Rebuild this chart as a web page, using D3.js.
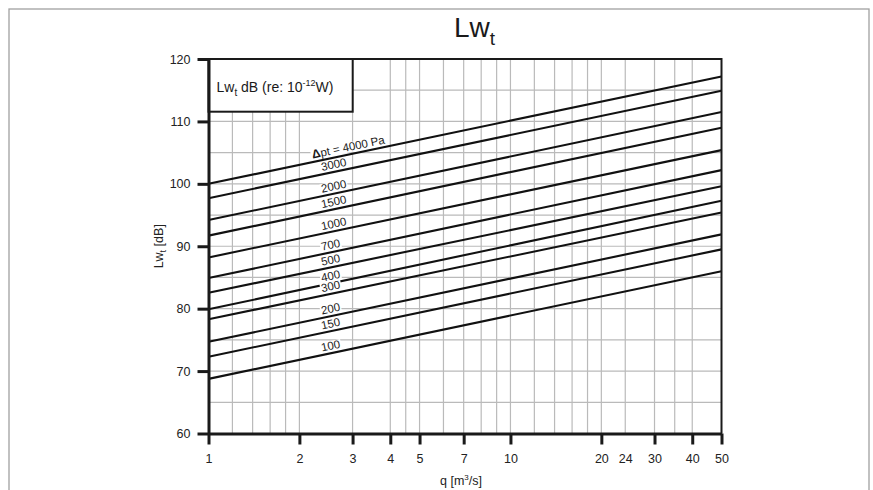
<!DOCTYPE html>
<html>
<head>
<meta charset="utf-8">
<script src="https://cdn.jsdelivr.net/npm/d3@7"></script>
<style>
  html, body { margin: 0; padding: 0; background: #fff; }
  svg { display: block; font-family: "Liberation Sans", Arial, sans-serif; }
</style>
</head>
<body>
<svg id="chart" width="873" height="490"></svg>
<script>
// ---- data ----
const pressures = [4000, 3000, 2000, 1500, 1000, 700, 500, 400, 300, 200, 150, 100];
const lwAtQ1  = [100.0, 97.7, 94.2, 91.7, 88.2, 84.9, 82.55, 79.9, 78.3, 74.7, 72.3, 68.75];
const lwAtQ50 = [117.2, 114.9, 111.5, 109.0, 105.4, 102.2, 99.6, 97.3, 95.4, 91.9, 89.5, 86.0];
const curveLabels = ["pt = 4000 Pa", "3000", "2000", "1500", "1000", "700", "500", "400", "300", "200", "150", "100"];
const qEnds = [1, 50];
const qTickValues = [1, 2, 3, 4, 5, 7, 10, 20, 24, 30, 40, 50];
const qTickNoMark = [24];
const qGrid = [1.2, 1.4, 1.6, 1.8, 2, 3, 4, 4.5, 5, 6, 7, 8, 9, 10, 12, 14, 16, 18, 20, 24, 30, 35, 40];
const lwTickValues = [60, 70, 80, 90, 100, 110, 120];
const lwGrid = [65, 70, 75, 80, 85, 90, 95, 100, 105, 110, 115];

// ---- layout ----
const svg = d3.select("#chart");
const L = 208.5, R = 721.5, T = 59, B = 433.5;
const x = d3.scaleLog().domain([1, 50]).range([L, R]);
const y = d3.scaleLinear().domain([60, 120]).range([B, T]);

// outer frame
svg.append("rect").attr("x", 9).attr("y", 9).attr("width", 860).attr("height", 500)
  .attr("fill", "none").attr("stroke", "#a0a0a0").attr("stroke-width", 1.3);

// title
const title = svg.append("text").attr("x", 454).attr("y", 37)
  .attr("font-size", 28).attr("fill", "#1a1a1a");
title.append("tspan").text("Lw");
title.append("tspan").attr("font-size", 19).attr("dy", 8).text("t");

// grid
const grid = svg.append("g");
grid.selectAll("line.v").data(qGrid).join("line")
  .attr("x1", d => x(d)).attr("x2", d => x(d)).attr("y1", T).attr("y2", B)
  .attr("stroke", "#bababa").attr("stroke-width", 1.2);
grid.selectAll("line.h").data(lwGrid).join("line")
  .attr("y1", d => y(d)).attr("y2", d => y(d)).attr("x1", L).attr("x2", R)
  .attr("stroke", "#bababa").attr("stroke-width", 1.2);

// curves
const lineGen = d3.line().x(d => x(d[0])).y(d => y(d[1]));
const curves = pressures.map((p, i) => [[qEnds[0], lwAtQ1[i]], [qEnds[1], lwAtQ50[i]]]);
svg.append("g").selectAll("path").data(curves).join("path")
  .attr("d", lineGen).attr("fill", "none").attr("stroke", "#111").attr("stroke-width", 2.1);

// curve labels
const labelQ = 2.377, labelQFirst = 2.215;
const labG = svg.append("g");
curves.forEach((c, i) => {
  const q0 = i === 0 ? labelQFirst : labelQ;
  const t = Math.log10(q0) / Math.log10(50);
  const v = c[0][1] + (c[1][1] - c[0][1]) * t;
  const px = x(q0), py = y(v) - 3.5;
  const slope = (y(c[1][1]) - y(c[0][1])) / (x(c[1][0]) - x(c[0][0]));
  const ang = Math.atan(slope) * 180 / Math.PI;
  const g = labG.append("g").attr("transform", `translate(${px},${py}) rotate(${ang})`);
  const rect = g.append("rect").attr("fill", "#fff");
  const txt = g.append("text").attr("font-size", 11.5).attr("fill", "#1a1a1a");
  if (i === 0) {
    txt.append("tspan").attr("font-weight", "bold").attr("font-size", 12).text("Δ");
  }
  txt.append("tspan").text(curveLabels[i]);
  const bb = txt.node().getBBox();
  rect.attr("x", bb.x - 1).attr("y", -8.5).attr("width", bb.width + 2).attr("height", 10);
});

// legend box
const lg = svg.append("g");
lg.append("rect").attr("x", L).attr("y", T).attr("width", 352.7 - L).attr("height", 111.7 - T)
  .attr("fill", "#fff").attr("stroke", "#1a1a1a").attr("stroke-width", 2);
const lt = lg.append("text").attr("x", 216.5).attr("y", 92).attr("font-size", 14).attr("fill", "#1a1a1a");
lt.append("tspan").text("Lw");
lt.append("tspan").attr("font-size", 10).attr("dy", 4).text("t");
lt.append("tspan").attr("dy", -4).text(" dB (re: 10");
lt.append("tspan").attr("font-size", 9).attr("dy", -6).text("-12");
lt.append("tspan").attr("dy", 6).text("W)");

// plot border top/right
svg.append("path").attr("d", `M${L},${T}H${R}V${B}`).attr("fill", "none")
  .attr("stroke", "#1a1a1a").attr("stroke-width", 2);

// axes
const xAxis = d3.axisBottom(x).tickValues(qTickValues).tickFormat(d3.format("d"))
  .tickSize(11).tickSizeOuter(0).tickPadding(10);
const gx = svg.append("g").attr("transform", `translate(0,${B})`).call(xAxis);
gx.select(".domain").attr("stroke", "#1a1a1a").attr("stroke-width", 3);
gx.selectAll(".tick line").attr("stroke", "#1a1a1a").attr("stroke-width", 3)
  .filter(d => qTickNoMark.includes(d)).remove();
gx.selectAll(".tick text").attr("font-size", 12.5).attr("fill", "#222")
  .attr("font-family", "Liberation Sans, Arial, sans-serif");

const yAxis = d3.axisLeft(y).tickValues(lwTickValues).tickFormat(d3.format("d"))
  .tickSize(11).tickSizeOuter(0).tickPadding(7);
const gy = svg.append("g").attr("transform", `translate(${L},0)`).call(yAxis);
gy.select(".domain").attr("stroke", "#1a1a1a").attr("stroke-width", 3);
gy.selectAll(".tick line").attr("stroke", "#1a1a1a").attr("stroke-width", 3);
gy.selectAll(".tick text").attr("font-size", 12.5).attr("fill", "#222")
  .attr("font-family", "Liberation Sans, Arial, sans-serif");

// axis titles
const xt = svg.append("text").attr("x", 461).attr("y", 485).attr("text-anchor", "middle")
  .attr("font-size", 12.5).attr("fill", "#222");
xt.append("tspan").text("q [m");
xt.append("tspan").attr("font-size", 8).attr("dy", -5).text("3");
xt.append("tspan").attr("dy", 5).text("/s]");

const yt = svg.append("text").attr("transform", `translate(163,${(T + B) / 2}) rotate(-90)`)
  .attr("text-anchor", "middle").attr("font-size", 12.5).attr("fill", "#222");
yt.append("tspan").text("Lw");
yt.append("tspan").attr("font-size", 9).attr("dy", 3).text("t");
yt.append("tspan").attr("dy", -3).text(" [dB]");
</script>
</body>
</html>
